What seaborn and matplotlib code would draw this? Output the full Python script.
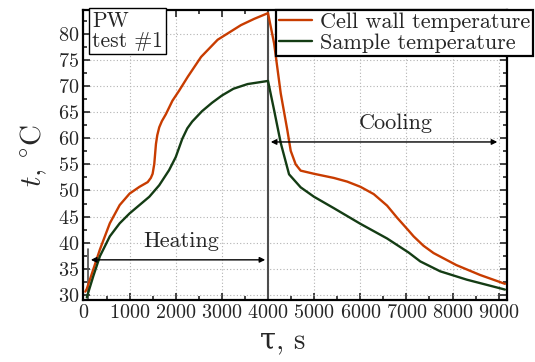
import matplotlib
matplotlib.use("Agg")
import matplotlib.pyplot as plt
from matplotlib.ticker import MultipleLocator
from matplotlib.lines import Line2D
import seaborn as sns
import pandas as pd

wall_time = [40, 71, 214, 357, 571, 785, 1000, 1214, 1392, 1460, 1499, 1535, 1571, 1600, 1642, 1700,
             1785, 1928, 2071, 2261, 2549, 2909, 3413, 3700, 4000, 4132, 4276, 4420, 4492, 4600,
             4708, 4996, 5428, 5716, 6004, 6292, 6580, 6796, 7048, 7156, 7370, 7588, 8081, 8596,
             9136]
wall_temp = [30.6, 31.1, 34.9, 38.7, 43.7, 47.2, 49.4, 50.7, 51.6, 52.4, 53.2, 55.1, 58.9, 60.6, 62.1, 63.3,
             64.6, 67.2, 69.1, 71.8, 75.6, 78.9, 81.7, 82.9, 84.0, 78.2, 68.6, 61.5, 57.6, 55.0,
             53.8, 53.2, 52.4, 51.7, 50.7, 49.3, 47.1, 44.8, 42.3, 41.2, 39.4, 38.0, 35.7, 33.8,
             32.1]
sample_time = [72, 214, 357, 571, 785, 1000, 1214, 1428, 1642, 1856, 2000, 2142, 2250, 2356, 2570,
               2785, 3000, 3250, 3557, 4000, 4132, 4276, 4456, 4708, 4996, 5428, 6004, 6580, 7048,
               7300, 7732, 8308, 9136]
sample_temp = [29.5, 33.6, 37.4, 41.2, 43.7, 45.6, 47.2, 48.8, 51.0, 53.9, 56.4, 59.9, 61.9, 63.2, 65.2,
               66.8, 68.2, 69.5, 70.4, 71.0, 65.4, 59.1, 53.1, 50.6, 48.8, 46.6, 43.6, 40.8, 38.1,
               36.4, 34.5, 32.9, 31.0]
series_names = ["Cell wall temperature", "Sample temperature"]
phase_labels = ["Heating", "Cooling"]
switch_time = 4000

df = pd.concat([
    pd.DataFrame({"time": wall_time, "temp": wall_temp, "series": series_names[0]}),
    pd.DataFrame({"time": sample_time, "temp": sample_temp, "series": series_names[1]}),
])

sns.set_style("ticks")
plt.rcParams["font.family"] = ["cmr10", "DejaVu Serif"]
plt.rcParams["mathtext.fontset"] = "cm"
plt.rcParams["axes.formatter.use_mathtext"] = True

fig = plt.figure(figsize=(5.35, 3.62), dpi=100)
ax = fig.add_axes([83/535, 1-300/362, (507-83)/535, (300-10)/362])

palette = {series_names[0]: "#c83c00", series_names[1]: "#143c14"}
sns.lineplot(data=df, x="time", y="temp", hue="series", palette=palette, ax=ax,
             linewidth=1.7, sort=False, legend=False, zorder=3)

ax.set_xlim(-10, 9180)
ax.set_ylim(29.0, 84.6)
ax.xaxis.set_major_locator(MultipleLocator(1000))
ax.xaxis.set_minor_locator(MultipleLocator(500))
ax.yaxis.set_major_locator(MultipleLocator(5))
ax.yaxis.set_minor_locator(MultipleLocator(2.5))
ax.tick_params(which="both", direction="in", top=True, right=True, labelsize=14.5, width=1.2, pad=3)
ax.tick_params(which="major", length=5)
ax.tick_params(which="minor", length=3)
ax.grid(True, which="major", linestyle=(0, (1, 2)), color="0.7", linewidth=0.8)
for s in ax.spines.values():
    s.set_linewidth(1.6)
    s.set_color("black")

ax.set_xlabel("τ, s", fontsize=21)
ax.xaxis.set_label_coords(0.47, -0.095)
ax.set_ylabel(r"$t$, $^{\circ}$C", fontsize=21, labelpad=6)

# phase separator and arrows
ax.axvline(switch_time, color="0.3", linewidth=1.5, zorder=2)
ax.plot([100, 100], [29.0, 38.8], color="0.3", linewidth=1.2, zorder=2)
ax.annotate("", xy=(100, 36.7), xytext=(switch_time, 36.7),
            arrowprops=dict(arrowstyle="<|-|>", color="black", lw=1.0, mutation_scale=8))
ax.annotate("", xy=(switch_time, 59.3), xytext=(9030, 59.3),
            arrowprops=dict(arrowstyle="<|-|>", color="black", lw=1.0, mutation_scale=8))
ax.text(2117, 40.3, phase_labels[0], fontsize=16, ha="center", va="center")
ax.text(6760, 62.8, phase_labels[1], fontsize=16, ha="center", va="center")

# PW test box
fig.text(92/535, 1-31/362, "PW\ntest #1", fontsize=15.5, ha="left", va="center",
         linespacing=1.0,
         bbox=dict(boxstyle="square,pad=0.15", facecolor="white", edgecolor="black", linewidth=1.0))

# legend
handles = [Line2D([], [], color=palette[n], linewidth=1.7) for n in series_names]
leg = fig.legend(handles, series_names, loc="upper left", bbox_to_anchor=(276/535, 1-10/362),
                 fontsize=16, frameon=True, fancybox=False, framealpha=1, edgecolor="black",
                 handlelength=1.5, handletextpad=0.35, labelspacing=0.05, borderpad=0.12,
                 borderaxespad=0)
leg.get_frame().set_linewidth(1.6)

fig.savefig("out.png", dpi=100)
